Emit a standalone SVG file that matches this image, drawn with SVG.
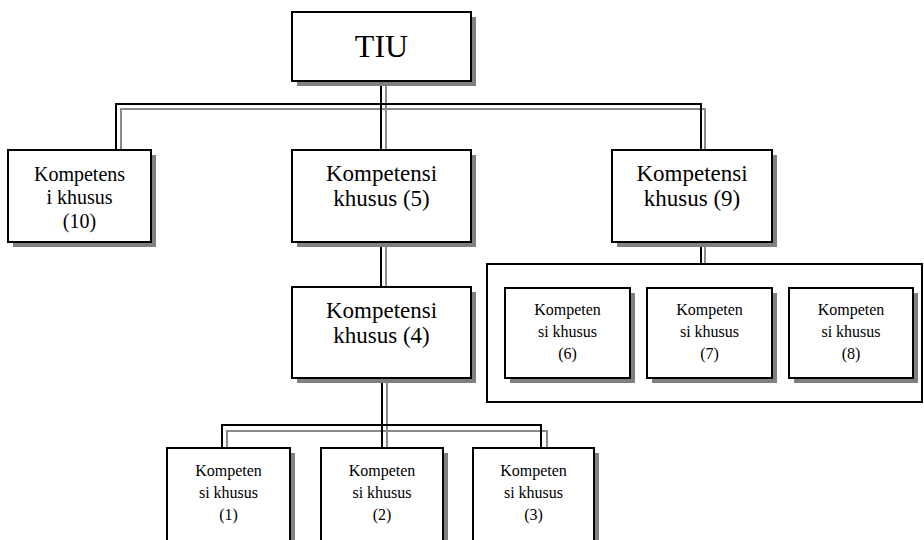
<svg xmlns="http://www.w3.org/2000/svg" width="924" height="540" viewBox="0 0 924 540">
<style>
.box{fill:#fff;stroke:#000;stroke-width:2}
.sh{fill:#808080}
.t{font-family:"Liberation Serif","Times New Roman",serif;fill:#000;text-anchor:middle}
.k{fill:none;stroke:#000;stroke-width:2}
.g{fill:none;stroke:#8a8a8a;stroke-width:2}
</style>
<rect width="924" height="540" fill="#fff"/>
<g id="connectors">
<path class="g" d="M386 81V150M121 150V109H705V150M386 242V287M705 242V264M387 378V448M227 448V431H547V448"/>
<path class="k" d="M381 81V150M116 150V104H701V150M381 242V287M701 242V264M382 378V448M222 448V425H541V448"/>
</g>
<g id="tiu">
<rect class="sh" x="297" y="17" width="179" height="69"/>
<rect class="box" x="292" y="12" width="179" height="69"/>
<text class="t" x="381.5" y="57" font-size="32">TIU</text>
</g>
<g id="k10">
<rect class="sh" x="13" y="155" width="143" height="92"/>
<rect class="box" x="8" y="150" width="143" height="92"/>
<text class="t" font-size="20"><tspan x="79.5" y="181">Kompetens</tspan><tspan x="79.5" y="204">i khusus</tspan><tspan x="79.5" y="228">(10)</tspan></text>
</g>
<g id="k5">
<rect class="sh" x="297" y="155" width="179" height="92"/>
<rect class="box" x="292" y="150" width="179" height="92"/>
<text class="t" font-size="23"><tspan x="381.5" y="181">Kompetensi</tspan><tspan x="381.5" y="206">khusus (5)</tspan></text>
</g>
<g id="k9">
<rect class="sh" x="617" y="155" width="160" height="92"/>
<rect class="box" x="612" y="150" width="160" height="92"/>
<text class="t" font-size="23"><tspan x="692" y="181">Kompetensi</tspan><tspan x="692" y="206">khusus (9)</tspan></text>
</g>
<g id="k4">
<rect class="sh" x="297" y="292" width="179" height="91"/>
<rect class="box" x="292" y="287" width="179" height="91"/>
<text class="t" font-size="23"><tspan x="381.5" y="318">Kompetensi</tspan><tspan x="381.5" y="343">khusus (4)</tspan></text>
</g>
<g id="group678">
<rect x="487" y="264" width="435" height="138" fill="none" stroke="#000" stroke-width="2"/>
</g>
<g id="k6">
<rect class="sh" x="510" y="293" width="125" height="90"/>
<rect class="box" x="505" y="288" width="125" height="90"/>
<text class="t" font-size="16"><tspan x="567.5" y="315">Kompeten</tspan><tspan x="567.5" y="337">si khusus</tspan><tspan x="567.5" y="359">(6)</tspan></text>
</g>
<g id="k7">
<rect class="sh" x="652" y="293" width="125" height="90"/>
<rect class="box" x="647" y="288" width="125" height="90"/>
<text class="t" font-size="16"><tspan x="709.5" y="315">Kompeten</tspan><tspan x="709.5" y="337">si khusus</tspan><tspan x="709.5" y="359">(7)</tspan></text>
</g>
<g id="k8">
<rect class="sh" x="794" y="293" width="124" height="90"/>
<rect class="box" x="789" y="288" width="124" height="90"/>
<text class="t" font-size="16"><tspan x="851" y="315">Kompeten</tspan><tspan x="851" y="337">si khusus</tspan><tspan x="851" y="359">(8)</tspan></text>
</g>
<g id="k1">
<rect class="sh" x="172" y="453" width="123" height="95"/>
<rect class="box" x="167" y="448" width="123" height="95"/>
<text class="t" font-size="16"><tspan x="228.5" y="476">Kompeten</tspan><tspan x="228.5" y="498">si khusus</tspan><tspan x="228.5" y="520">(1)</tspan></text>
</g>
<g id="k2">
<rect class="sh" x="326" y="453" width="122" height="95"/>
<rect class="box" x="321" y="448" width="122" height="95"/>
<text class="t" font-size="16"><tspan x="382" y="476">Kompeten</tspan><tspan x="382" y="498">si khusus</tspan><tspan x="382" y="520">(2)</tspan></text>
</g>
<g id="k3">
<rect class="sh" x="478" y="453" width="121" height="95"/>
<rect class="box" x="473" y="448" width="121" height="95"/>
<text class="t" font-size="16"><tspan x="533.5" y="476">Kompeten</tspan><tspan x="533.5" y="498">si khusus</tspan><tspan x="533.5" y="520">(3)</tspan></text>
</g>
</svg>
